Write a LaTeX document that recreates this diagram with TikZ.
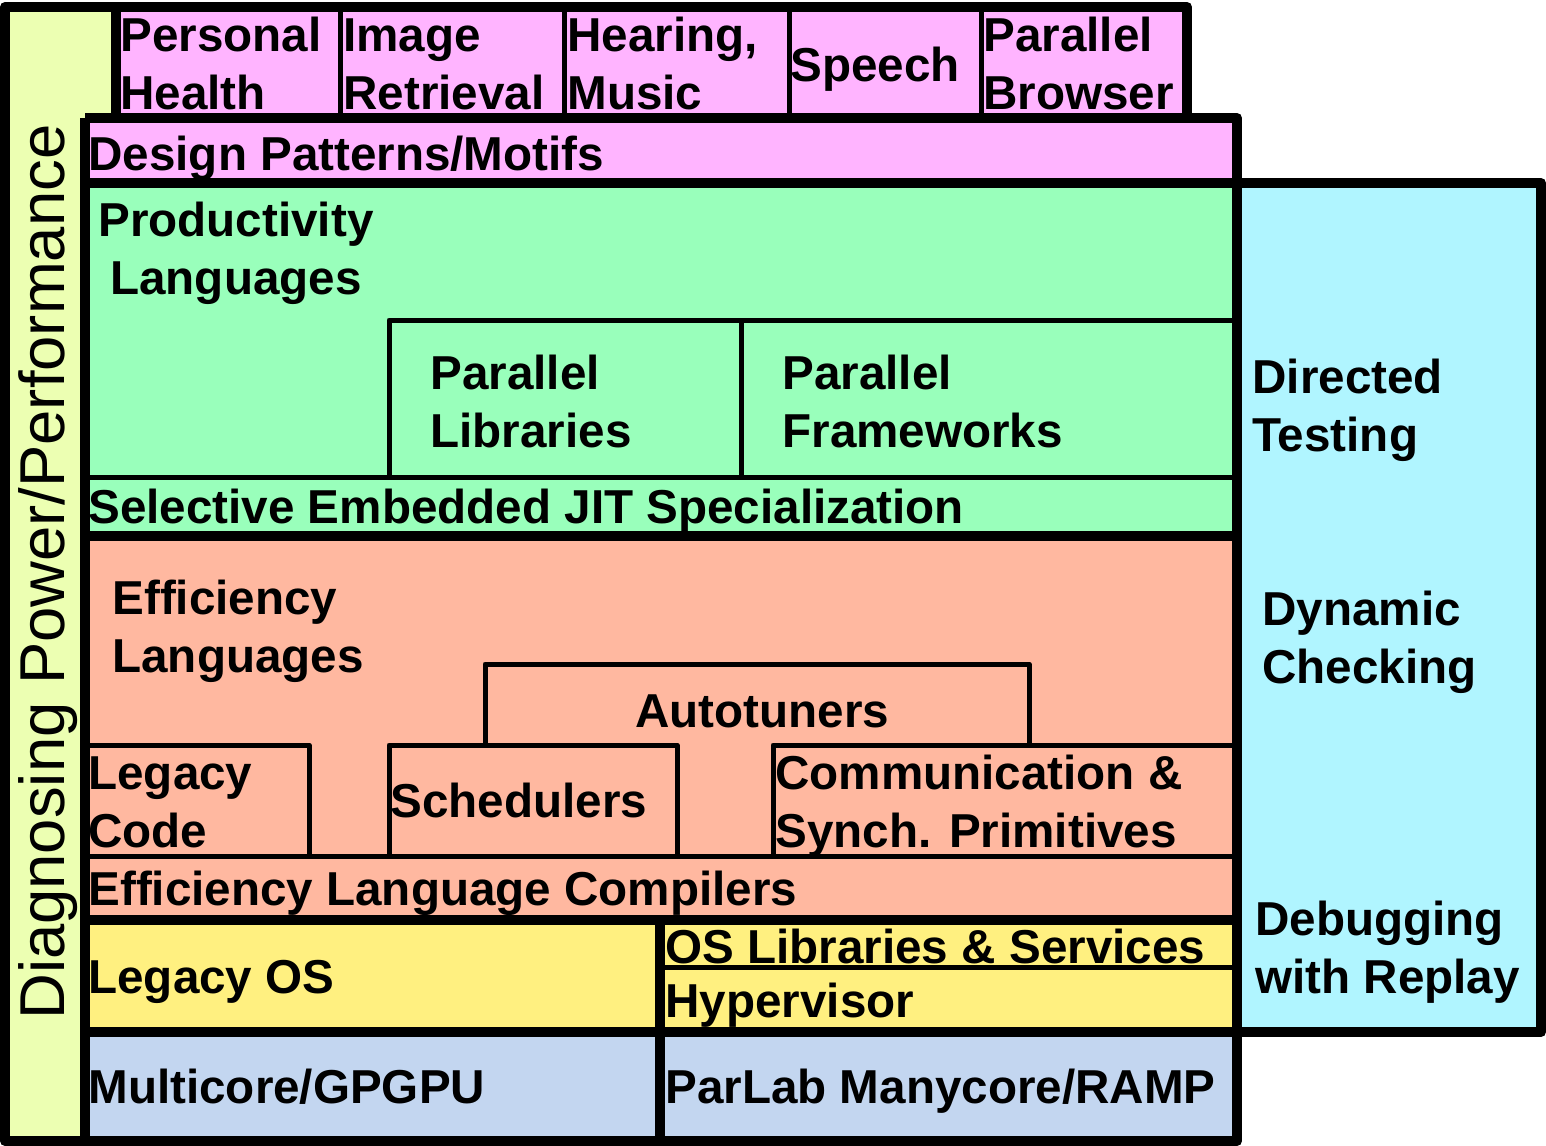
\documentclass[tikz,border=0pt]{standalone}
\usepackage{fontspec}
\setmainfont{Liberation Sans}
\usetikzlibrary{arrows.meta}

\definecolor{appPink}{RGB}{255,180,255}
\definecolor{prodGreen}{RGB}{153,255,187}
\definecolor{effSalmon}{RGB}{255,184,160}
\definecolor{osYellow}{RGB}{255,240,128}
\definecolor{hwBlue}{RGB}{195,214,240}
\definecolor{testCyan}{RGB}{176,245,255}
\definecolor{diagLime}{RGB}{236,255,178}

\tikzset{
  thickline/.style={line width=5pt},
  thinline/.style={line width=2.5pt},
  lbl/.style={anchor=base west, inner sep=0pt, align=left,
              font=\fontsize{23.8}{29}\selectfont\bfseries},
}

\begin{document}
\begin{tikzpicture}[x=0.5pt, y=-0.5pt, line join=round]
    \useasboundingbox (0,0) rectangle (1546,1145);

    % layers
    \fill[diagLime] (5,7) -- (116,7) -- (116,118) -- (85,118) -- (85,1141) -- (5,1141) -- cycle;
    \fill[appPink] (116,7) rectangle (1187,118);
    \fill[appPink] (85,118) rectangle (1237,183);
    \fill[prodGreen] (85,183) rectangle (1237,536);
    \fill[effSalmon] (85,536) rectangle (1237,920);
    \fill[osYellow] (85,920) rectangle (1237,1032);
    \fill[hwBlue] (85,1032) rectangle (1237,1141);
    \fill[testCyan] (1237,183) rectangle (1541,1032);

    \draw[thickline] (5,1141) -- (5,7) -- (1187,7) -- (1187,118) -- (1237,118) -- (1237,183)
        -- (1541,183) -- (1541,1032) -- (1237,1032) -- (1237,1141) -- cycle;
    \draw[thickline] (116,7) -- (116,118) -- (1187,118);
    \draw[thickline] (85,118) -- (116,118);
    \draw[thickline] (85,118) -- (85,1141);
    \draw[thickline] (1237,183) -- (1237,1032);
    \foreach \y in {183,536,920,1032}
        \draw[thickline] (85,\y) -- (1237,\y);
    \draw[thickline] (660,920) -- (660,1141);

    \foreach \x in {340,564,789,981}
        \draw[thinline] (\x,7) -- (\x,118);
    \draw[thinline] (85,477) -- (1237,477);
    \draw[thinline] (389,477) -- (389,320) -- (1237,320);
    \draw[thinline] (741,320) -- (741,477);
    \draw[thinline] (85,745) -- (309,745) -- (309,856);
    \draw[thinline] (389,856) -- (389,745) -- (677,745) -- (677,856);
    \draw[thinline] (485,745) -- (485,664) -- (1029,664) -- (1029,745);
    \draw[thinline] (773,856) -- (773,745) -- (1237,745);
    \draw[thinline] (85,856) -- (1237,856);
    \draw[thinline] (660,967) -- (1237,967);

    % labels (base = last line)
    \node[lbl] (health) at (120,110) {Personal\\Health};
    \node[lbl] (image) at (343,110) {Image\\Retrieval};
    \node[lbl] (hearing) at (567,110) {Hearing,\\Music};
    \node[lbl] (speech) at (790,82) {Speech};
    \node[lbl] (browser) at (983,110) {Parallel\\Browser};
    \node[lbl] (patterns) at (88,170) {Design Patterns/Motifs};
    \node[lbl, align=center] (prodlang) at (98,294) {Productivity\\Languages};
    \node[lbl] (parlib) at (430,447) {Parallel\\Libraries};
    \node[lbl] (parfw) at (782,447) {Parallel\\Frameworks};
    \node[lbl] (sejits) at (88,523) {Selective Embedded JIT Specialization};
    \node[lbl] (efflang) at (112,672) {Efficiency\\Languages};
    \node[lbl] (autotune) at (635,727) {Autotuners};
    \node[lbl] (legcode) at (88,847) {Legacy\\Code};
    \node[lbl] (sched) at (390,817) {Schedulers};
    \node[lbl] (comm) at (775,847) {Communication \&\\Synch. Primitives};
    \node[lbl] (effcomp) at (88,905) {Efficiency Language Compilers};
    \node[lbl] (legos) at (88,993) {Legacy OS};
    \node[lbl] (oslib) at (665,963) {OS Libraries \& Services};
    \node[lbl] (hyper) at (665,1017) {Hypervisor};
    \node[lbl] (multi) at (88,1103) {Multicore/GPGPU};
    \node[lbl] (ramp) at (665,1103) {ParLab Manycore/RAMP};
    \node[lbl] (directed) at (1252,451) {Directed\\Testing};
    \node[lbl] (dynamic) at (1262,683) {Dynamic\\Checking};
    \node[lbl] (debug) at (1255,993) {Debugging\\with Replay};
    \node[anchor=base west, inner sep=0pt, rotate=90,
          font=\fontsize{31.7}{38}\selectfont] (diag) at (64,1020) {Diagnosing Power/Performance};
\end{tikzpicture}
\end{document}
